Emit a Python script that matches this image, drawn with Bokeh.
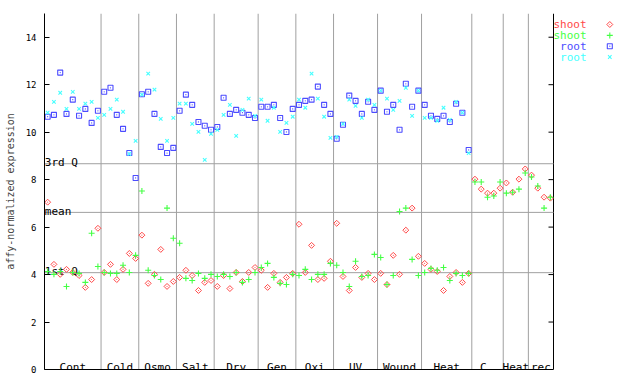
import numpy as np
from bokeh.plotting import figure
from bokeh.models import Range1d, FixedTicker, Label
from bokeh.embed import file_html
from bokeh.resources import INLINE
from bokeh.core.properties import value

# ---------------- data ----------------
groups = ["Cont", "Cold", "Osmo", "Salt", "Dry", "Gen", "Oxi", "UV", "Wound",
          "Heat", "C", "Heat", "rec"]
group_sizes = [9, 6, 6, 6, 7, 6, 6, 7, 7, 8, 5, 4, 4]

shoot_rep1 = [7.05, 4.43, 4.01, 4.22, 4.09, 3.96, 3.46, 3.79, 5.95,
              4.09, 4.43, 3.79, 4.22, 4.89, 4.68,
              5.66, 3.63, 4.01, 5.06, 3.50, 3.71,
              3.88, 4.18, 3.96, 3.33, 3.67, 3.75,
              3.50, 3.96, 3.41, 4.09, 3.71, 4.09, 4.30,
              4.18, 3.46, 4.05, 3.67, 3.88, 4.05,
              6.12, 4.09, 5.23, 3.79, 3.84, 4.56,
              6.16, 3.92, 3.33, 4.30, 3.88, 4.05, 3.79,
              4.05, 3.58, 4.81, 4.01, 5.87, 6.80, 4.77,
              4.47, 4.22, 4.13, 3.33, 3.92, 4.09, 3.67, 4.05,
              8.02, 7.60, 7.43, 7.43, 7.64,
              7.86, 7.47, 8.02, 8.45,
              8.19, 7.64, 7.26, 7.22]

shoot_rep2 = [4.13, 4.01, 4.13, 3.50, 4.09, 4.05, 3.67, 5.74, 4.34,
              4.09, 4.05, 4.05, 4.39, 4.09, 4.81,
              7.52, 4.18, 3.96, 3.79, 6.80, 5.53,
              5.32, 3.84, 3.75, 4.05, 3.84, 4.01,
              3.92, 4.01, 3.92, 4.09, 3.67, 3.79, 4.09,
              4.30, 4.47, 3.88, 3.63, 3.58, 4.01,
              3.96, 4.22, 3.79, 4.01, 4.01, 4.47,
              4.39, 4.09, 3.50, 4.56, 3.92, 3.96, 4.85,
              4.72, 3.58, 3.96, 6.66, 6.80, 4.64, 3.96,
              4.09, 4.26, 4.18, 4.30, 3.75, 4.05, 3.96, 4.05,
              7.90, 7.90, 7.26, 7.31, 7.90,
              7.43, 7.47, 7.60, 8.28,
              8.11, 7.73, 6.80, 7.26]

root_rep1 = [10.65, 10.73, 12.51, 10.77, 11.37, 10.69, 10.98, 10.39, 10.90,
             11.70, 11.87, 10.73, 10.14, 9.12, 8.07,
             11.60, 11.70, 10.77, 9.38, 9.12, 9.34,
             10.90, 11.58, 11.15, 10.43, 10.27, 10.10,
             10.22, 11.45, 10.77, 10.94, 10.82, 10.73, 10.60,
             11.07, 11.07, 11.15, 10.60, 10.01, 10.98,
             11.15, 11.32, 11.37, 11.92, 11.15, 10.77,
             9.72, 10.31, 11.54, 11.32, 10.77, 11.28, 10.94,
             11.75, 10.86, 11.15, 10.10, 12.04, 11.07, 11.75,
             11.15, 10.69, 10.56, 10.69, 10.43, 11.20, 10.82, 9.25]

root_rep2 = [10.82, 11.28, 11.66, 10.98, 11.70, 10.98, 11.20, 11.28, 10.60,
             10.73, 10.98, 11.37, 10.86, 9.08, 9.63,
             11.58, 12.47, 11.79, 10.56, 9.63, 10.60,
             11.20, 11.20, 10.35, 10.01, 8.83, 9.93,
             10.10, 10.73, 11.15, 9.84, 10.94, 11.41, 10.69,
             11.37, 10.48, 11.03, 10.01, 10.39, 10.65,
             11.37, 11.03, 12.47, 11.41, 10.65, 9.76,
             9.80, 10.35, 11.37, 11.11, 10.60, 11.37, 11.15,
             11.75, 11.41, 10.94, 11.32, 11.87, 10.69, 11.75,
             10.60, 10.60, 10.48, 11.03, 10.52, 11.28, 10.82, 9.12]

quartile_names = ["3rd Q", "mean", "1st Q"]
quartile_values = [8.67, 6.62, 4.08]

y_ticks = [0, 2, 4, 6, 8, 10, 12, 14]
legend_names = ["shoot", "shoot", "root", "root"]

# ---------------- styling / layout ----------------
RED, GREEN, BLUE, CYAN = "#ff4848", "#44ff44", "#4c4cff", "#44ffff"
GRAY = "#a0a0a0"
FONT = value("DejaVu Sans Mono")

W, H = 640, 384
LEFT, TOP, BOTTOM = 44, 13, 15
n = len(shoot_rep1)
px_per_unit = 509.0 / n
x_start = -0.5
x_end = -0.5 + (W - LEFT) / px_per_unit
y_top = 15
py_per_unit = (H - TOP - BOTTOM) / y_top

p = figure(width=W, height=H, output_backend="svg", toolbar_location=None,
           x_range=Range1d(x_start, x_end), y_range=Range1d(0, y_top),
           min_border_left=LEFT, min_border_right=0,
           min_border_top=TOP, min_border_bottom=BOTTOM)
p.outline_line_color = None
p.xgrid.visible = False
p.ygrid.visible = False

# bottom axis: plain line only over the data area
p.xaxis.ticker = FixedTicker(ticks=[])
p.xaxis.bounds = (-0.5, n - 0.5)
p.xaxis.major_tick_out = 0
p.xaxis.major_tick_in = 0
p.xaxis.minor_tick_out = 0
p.xaxis.minor_tick_in = 0
p.xaxis.axis_line_color = "black"

# left axis
p.yaxis.ticker = FixedTicker(ticks=y_ticks)
p.yaxis.major_tick_in = 5
p.yaxis.major_tick_out = 0
p.yaxis.minor_tick_in = 0
p.yaxis.minor_tick_out = 0
p.yaxis.major_label_standoff = 8
p.yaxis.major_label_text_font = "DejaVu Sans Mono"
p.yaxis.major_label_text_font_size = "9px"
p.yaxis.major_label_text_color = "black"
p.yaxis.axis_label = "affy-normalized expression"
p.yaxis.axis_label_text_font = "DejaVu Sans Mono"
p.yaxis.axis_label_text_font_size = "10px"
p.yaxis.axis_label_text_font_style = "normal"
p.yaxis.axis_label_standoff = 7
p.yaxis.axis_line_color = "black"

# right axis drawn as segments at the data edge
x_right = n - 0.5
p.segment(x0=[x_right], y0=[0], x1=[x_right], y1=[y_top], line_color="black")
tick_len = 5 / px_per_unit
p.segment(x0=[x_right - tick_len] * len(y_ticks), y0=y_ticks,
          x1=[x_right] * len(y_ticks), y1=y_ticks, line_color="black")

# group separators
ends = np.cumsum(group_sizes)
bounds = ends[:-1] - 0.5
p.segment(x0=bounds, y0=0, x1=bounds, y1=y_top, line_color=GRAY, line_width=1)

# quartile lines and labels
p.segment(x0=[-0.5] * 3, y0=quartile_values, x1=[x_right] * 3, y1=quartile_values,
          line_color=GRAY, line_width=1)
p.text(x=[-0.45] * 3, y=[v + 1.2 / py_per_unit for v in quartile_values],
       text=quartile_names, text_font=FONT, text_font_size="11px",
       text_baseline="alphabetic", text_align="left", text_color="black")

# group labels
centers = ends - np.array(group_sizes) / 2.0 - 0.5
centers[10] -= 0.65
p.text(x=centers, y=[2.2 / py_per_unit] * len(groups), text=groups,
       text_font=FONT, text_font_size="11px", text_align="center",
       text_baseline="alphabetic", text_color="black")
p.add_layout(Label(x=72.25, y=-9.5 / py_per_unit, text="suspension",
                   text_font="DejaVu Sans Mono", text_font_size="11px",
                   text_align="center", text_baseline="alphabetic",
                   text_color="black"))

# data
x = np.arange(n)
xr = np.arange(len(root_rep1))
p.scatter(x, shoot_rep1, marker="square_dot", angle=np.pi / 4, size=4.2,
          line_color=RED, fill_color=None, line_width=1)
p.scatter(x, shoot_rep2, marker="cross", size=6, line_color=GREEN, line_width=1.1)
p.scatter(xr, root_rep1, marker="square_dot", size=5, line_color=BLUE,
          fill_color=None, line_width=1.1)
p.scatter(xr, root_rep2, marker="x", size=5, line_color=CYAN, line_width=1.1)

# legend (label then marker, to the right of the data area)
def to_dx(page_x):
    return -0.5 + (page_x - LEFT) / px_per_unit

def to_dy(page_y):
    return (H - BOTTOM - page_y) / py_per_unit

leg_rows = [to_dy(v) for v in (24, 34.9, 45.7, 56.5)]
leg_colors = [RED, GREEN, BLUE, CYAN]
p.text(x=[to_dx(586)] * 4, y=leg_rows, text=legend_names, text_color=leg_colors,
       text_font=FONT, text_font_size="11px", text_align="right",
       text_baseline="middle")
mx = to_dx(609.3)
p.scatter([mx], [leg_rows[0]], marker="square_dot", angle=np.pi / 4, size=4.2,
          line_color=RED, fill_color=None)
p.scatter([mx], [leg_rows[1]], marker="cross", size=6, line_color=GREEN, line_width=1.1)
p.scatter([mx], [leg_rows[2]], marker="square_dot", size=5, line_color=BLUE,
          fill_color=None, line_width=1.1)
p.scatter([mx], [leg_rows[3]], marker="x", size=5, line_color=CYAN, line_width=1.1)

open("out.html", "w").write(file_html(p, INLINE))
